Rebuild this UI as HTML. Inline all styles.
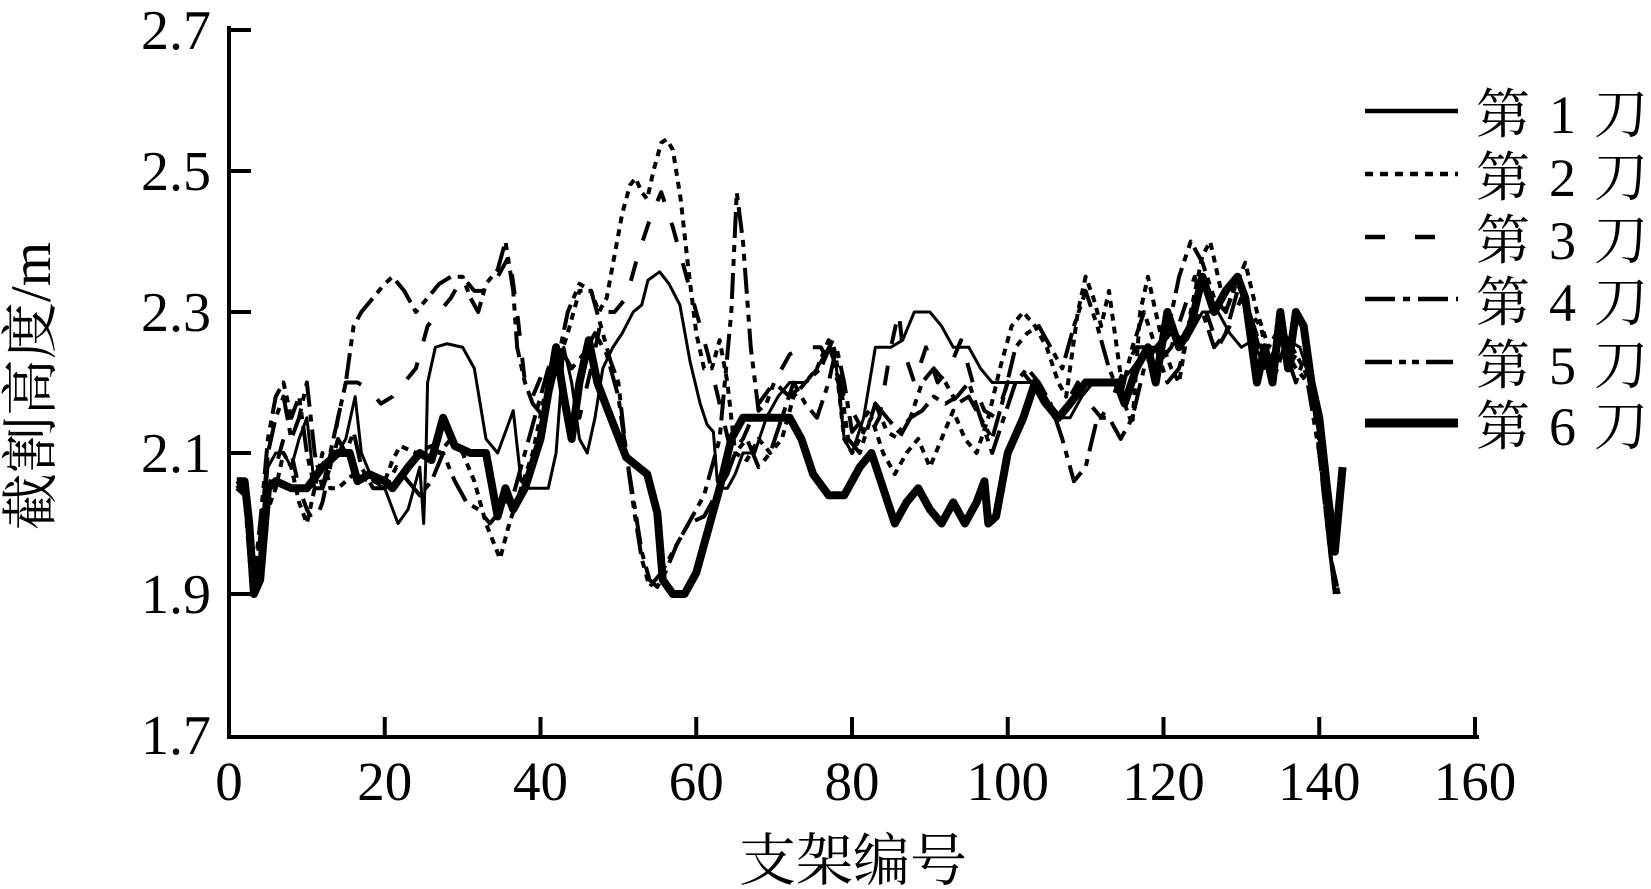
<!DOCTYPE html>
<html>
<head>
<meta charset="utf-8">
<style>
html,body{margin:0;padding:0;background:#fff;}
svg{display:block;}
.t{font-family:"Liberation Serif","Noto Serif CJK SC",serif;fill:#000;}
.s{fill:none;stroke:#000;stroke-linejoin:round;vector-effect:non-scaling-stroke;}
</style>
</head>
<body>
<svg width="1651" height="889" viewBox="0 0 1651 889" xmlns="http://www.w3.org/2000/svg">
<rect width="1651" height="889" fill="#fff"/>

<!-- axes -->
<g stroke="#000" stroke-width="4" fill="none">
<path d="M229,28 L229,737 L1477,737" stroke-linecap="square"/>
<path d="M229,30 H251 M229,171 H251 M229,312 H251 M229,453 H251 M229,594 H251"/>
<path d="M384.75,735 V717 M540.5,735 V717 M696.25,735 V717 M852,735 V717 M1007.75,735 V717 M1163.5,735 V717 M1319.25,735 V717 M1475,735 V717"/>
</g>

<!-- y tick labels -->
<g class="t" font-size="56" text-anchor="end">
<text x="211" y="49">2.7</text>
<text x="211" y="190">2.5</text>
<text x="211" y="331">2.3</text>
<text x="211" y="472">2.1</text>
<text x="211" y="613">1.9</text>
<text x="211" y="754">1.7</text>
</g>
<!-- x tick labels -->
<g class="t" font-size="55" text-anchor="middle">
<text x="229" y="800">0</text>
<text x="384.75" y="800">20</text>
<text x="540.5" y="800">40</text>
<text x="696.25" y="800">60</text>
<text x="852" y="800">80</text>
<text x="1007.75" y="800">100</text>
<text x="1163.5" y="800">120</text>
<text x="1319.25" y="800">140</text>
<text x="1475" y="800">160</text>
</g>

<!-- axis titles -->
<text class="t" x="853" y="880" font-size="57" text-anchor="middle">支架编号</text>
<text class="t" font-size="57" text-anchor="middle" transform="translate(50,386) rotate(-90)">截割高度/m</text>

<!-- data series -->
<g transform="translate(229,735) scale(7.7875,-7.05)">
<!-- series 2 dotted -->
<polyline class="s" stroke-width="4" stroke-dasharray="7 6" points="1,36 2,35 3,20 4,25 5,32 6,35 7,40 8,38 9,33 10,30 11,35 12,40 13,35 14,35 16,37 18,36 20,36 21,39 22,41 24,40 26,41 27,40 28.5,42 30,40 31.5,36 33,30 34.8,25 36,30 37.5,35 39,40 40.5,48 42,52 43.5,57 45,63 46.5,63 47.5,60 48.5,62 49.5,68 50.5,74 51.5,78 52.2,79 53,77 53.7,76 54.5,80 55.5,84 56.2,84.5 57,83 58,76 59,66 60,57 61,52 62,52 63,56 64,50 65,40 66.5,39 68,42 69.5,40 71,42 72.5,48 74,50 75.5,52 77,56 78,52 79,42 80,40 81,42 82.5,45 84,40 85.5,37 87,40 88.5,42 90,38 91.5,42 93,46 94.5,42 96,40 97.5,45 99,52 100.5,58 102,60 103.5,58 105,55 106.5,50 107.5,48 109,60 110,65 111,62 112,58 113,63 114,55 115,47 116,44 117,60 118,65 119,60 120,55 121,52 122,50 123.5,60 125,68 126,70 127,65 128,60 129,63 130.5,67 132,60 133.5,55 135,58 136.5,55 138,52 139.5,48 140.5,35 141.5,25 142.5,20"/>
<!-- series 3 dashed -->
<polyline class="s" stroke-width="4" stroke-dasharray="20 22" points="1,35 2,35 3,20 4,27 5,35 6,38 7,42 8,40 9,35 10,32 11,30 12,33 13,38 14,45 15,50 16.5,50 18,49 19.5,47 21,48 22.5,50 24,52 25.5,58 27,60 28.5,62 30,65 31.5,63 33,63 34.5,65 36,68 37,60 38,50 39,48 40.5,52 42,52 43.5,48 45,45 46.5,52 48,60 49.5,60 51,62 52.5,68 54,73 55.5,77 57,72 58.5,66 60,60 61.5,54 63,47 64.5,40 66,42 68,47 70,50 72,54 74,55 76,55 77.5,52 79,48 80.5,45 82,42 83.5,45 85,55 86,60 86.5,55 88,50 89.5,55 91,50 92.5,52 94,56 95.5,50 97,46 98.5,45 100,50 101.5,52 103,50 104.5,48 106,45 107.5,47 109,50 110.5,47 112,45 113.5,48 115,52 116.5,55 118,55 119.5,53 121,55 122.5,60 124,65 125.5,60 127,55 128.5,58 130,62 131.5,58 133,52 134.5,55 136,52 137.5,55 139,50 140.5,35 141.5,25 142.5,20"/>
<!-- series 4 dash-dot -->
<polyline class="s" stroke-width="4" stroke-dasharray="28 8 7 8" points="1,35 2,34 3,20 4,28 5,40 6,45 7,48 8,42 9,45 10,50 11,40 12,35 13,38 14,42 15,40 16,43 17,38 18.5,35 20,35 21.5,38 23,36 24.5,34 26,36 27.5,40 29,36 30.5,33 32,32 33.5,30 35,32 36.5,34 38,40 39.5,46 41,52 42.5,55 44,52 45.5,54 47,57 48.5,54 50,48 51,40 52,33 53,26 54,22 55,21 56,23 57.5,27 59,30 61,31 62.5,34 64,37 65,40 66.5,42 68,38 69.5,40 71,45 72.5,50 74,47 75.5,45 77,50 78,55 79,50 80,43 81.5,45 83,47 84.5,45 86,43 87.5,45 89,46 90.5,48 92,47 93.5,48 95,50 96.5,45 98,40 99.5,45 101,50 102.5,52 104,50 105.5,47 107,42 108.5,36 110,38 111.5,45 113,45 114.5,42 116,45 117.5,52 119,55 120.5,50 122,52 123.5,58 125,60 126.5,55 128,57 129.5,63 131,60 132.5,55 134,52 135.5,55 137,50 138.5,55 140,45 141,30 142,20"/>
<!-- series 5 dash-dot-dot -->
<polyline class="s" stroke-width="4" stroke-dasharray="26 7 7 7 7 7" points="1,35 2,36 3,20 4,30 5,42 6,48 7,50 8,45 9,48 10,40 11,35 12,35 13,40 14,45 15,50 16,58 17,60 18.5,62 20,64 21,65 22.5,63 24,60 25.5,62 27,64 28.5,65 30,65 31,62 32,60 33,64 34.5,66 35.5,70 36.5,63 37,55 38,50 39,47 40.5,45 42,52 43.5,60 45,64 46.5,63 48,57 49,53 50,50 51,40 52,32 53,25 54,21 55.5,23 57,26 59,30 61,34 63,42 64.5,60 65.2,77 66,70 67,55 68,46 69,47 70,50 72,48 74,50 76,52 77.5,56 78.5,50 79.5,42 81,40 83,47 84.5,43 86,42 87.5,45 89,50 90.5,52 92,50 93.5,47 95,48 96.5,45 98,42 99.5,48 101,55 102.5,57 104,58 105.5,55 107,52 108.5,58 110,63 111.5,58 113,52 114.5,48 116,55 117.5,60 119,55 120.5,57 122,65 123.5,70 125,67 126.5,62 128,60 129.5,65 131,60 132.5,58 134,50 135.5,55 137,52 138.5,50 140,40 141,30 142,20"/>
<!-- series 1 thin solid -->
<polyline class="s" stroke-width="3" points="1,36 2,35 3,20 4,25 5,38 6,40 7,40 8,38 9,42 10,45 11,35 12,35 13,40 14,40 15,42 16.2,48 17,40 18.5,36 20,35 21.7,30 23,32 24.5,38 25,30 25.3,40 25.5,50 26.5,55 28,55.5 30,55 31.5,52 33,42 34.5,40 35.5,43 36.5,46 37.5,36 38.5,35 41,35 42,40 43,55 44,50 45,42 46,40 47,45 48,52 49.3,55 50.5,57 51.9,60 53,61 53.8,64.5 55.3,65.7 56.5,64 57.9,61 59.2,53 60.5,47 61.4,44 62.2,43 62.7,36 63.5,35 64,35 65,37 66,40 67.5,40 69,45 70.5,48 72,50 74,50 75.5,52 77,55 78,52 79,42 80,40 81.5,45 83,55 85,55 86.5,56 88,60 90,60 91.5,58 93,55 95,55 96.5,52 98,50 100,50 102,50 103,50 104.5,47 106,45 108,45 109.5,48 111,50 113,50 114.5,50 116,52 118,55 119.5,55 121,57 123,56 125,60 127,60 128.5,57 130,55 131.5,56 133,52 134.5,55 136,56 137.5,55 139,50 140,42 141,30 142,20"/>
<!-- series 6 thick solid -->
<polyline class="s" stroke-width="8" points="1,36 2,36 2.6,30 3.2,20 4,22 5,35 6,36 8,35 10,35 12,38 14,40 15.5,40 16.5,36 18,37 20,36 21,35 23,38 24.5,40 26,39 27.5,45 29,41 31,40 33,40 34.5,31 35.5,35 36.5,32 38,35 40,42 42,55 43,48 44,42 45,50 46.2,56 47.3,50 48.5,46.5 51,39.4 53.7,37 55,31.5 55.7,22 57,20 58.5,20 60,23 61.5,29 63,35 64.5,42 66,45 70,45 72,45 73.5,42 75,37 77,34 79,34 81,38 82.5,40 84,35 85.5,30 87,33 88.5,35 90,32 91.5,30 93,33 94.5,30 96,33 97,36 97.5,30 98.5,31 100,40 102,45 103.5,50 105,47 106.5,45 108,47 110,50 112,50 114,50 115,47 116.5,52 118,55 119,50 120.5,60 122,55 123.5,58 125,65 126.5,60 128,63 129.5,65 130.5,62 132,50 133,55 134,50 135,60 136,52 137,60 138,58 139,50 140,45 141,35 142,26 143,38"/>
</g>

<!-- legend -->
<g fill="none" stroke="#000">
<line x1="1365" y1="111" x2="1458" y2="111" stroke-width="4.5"/>
<line x1="1365" y1="174" x2="1458" y2="174" stroke-width="4.5" stroke-dasharray="8 7"/>
<line x1="1365" y1="237" x2="1441" y2="237" stroke-width="4.5" stroke-dasharray="20 30"/>
<line x1="1365" y1="299" x2="1458" y2="299" stroke-width="4.5" stroke-dasharray="30 8 7 8"/>
<line x1="1365" y1="362" x2="1458" y2="362" stroke-width="4.5" stroke-dasharray="27 7 7 6 7 7"/>
<line x1="1365" y1="423" x2="1458" y2="423" stroke-width="9"/>
</g>
<g class="t" font-size="54">
<text y="133"><tspan x="1476">第</tspan><tspan x="1549">1</tspan><tspan x="1594">刀</tspan></text>
<text y="196"><tspan x="1476">第</tspan><tspan x="1549">2</tspan><tspan x="1594">刀</tspan></text>
<text y="259"><tspan x="1476">第</tspan><tspan x="1549">3</tspan><tspan x="1594">刀</tspan></text>
<text y="321"><tspan x="1476">第</tspan><tspan x="1549">4</tspan><tspan x="1594">刀</tspan></text>
<text y="384"><tspan x="1476">第</tspan><tspan x="1549">5</tspan><tspan x="1594">刀</tspan></text>
<text y="445"><tspan x="1476">第</tspan><tspan x="1549">6</tspan><tspan x="1594">刀</tspan></text>
</g>
</svg>
</body>
</html>
